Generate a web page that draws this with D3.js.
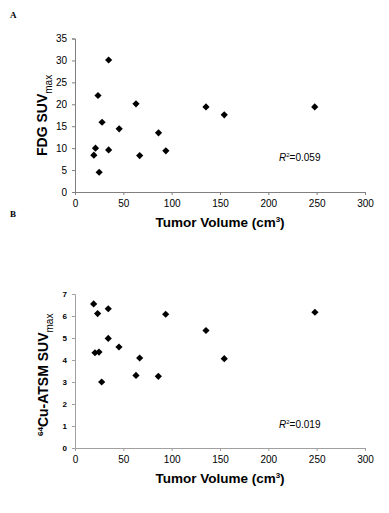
<!doctype html>
<html lang="en">
  <head>
    <meta charset="utf-8">
    <title>Tumor volume vs SUVmax</title>
    <script src="https://d3js.org/d3.v7.min.js"></script>
    <style>
      body { margin: 0; background: #fff; }
      svg { display: block; }
    </style>
  </head>
  <body>
    <svg width="389" height="513"></svg>
    <script>
      // tumor volumes (cm3), same lesions in both panels
      var volumes = [19.5, 21.2, 23.8, 25.0, 28.0, 34.8, 34.8, 45.7, 63.1, 66.9, 86.4, 94.0, 135.5, 154.4, 248.0];
      var fdgSuv  = [8.4, 10.0, 22.0, 4.5, 15.9, 30.1, 9.6, 14.4, 20.1, 8.3, 13.5, 9.4, 19.4, 17.6, 19.4];
      var cuVolumes = [19.3, 20.7, 23.4, 24.8, 27.6, 34.4, 34.4, 45.5, 63.1, 66.9, 86.2, 93.8, 135.5, 154.4, 248.2];
      var cuSuv   = [6.55, 4.33, 6.11, 4.36, 3.0, 6.33, 4.98, 4.59, 3.30, 4.09, 3.26, 6.08, 5.34, 4.06, 6.17];
      var xTicks = [0, 50, 100, 150, 200, 250, 300];
      var fdgTicks = [0, 5, 10, 15, 20, 25, 30, 35];
      var cuTicks = [0, 1, 2, 3, 4, 5, 6, 7];

      var svg = d3.select('svg');
      var font = 'Arial, "Liberation Sans", sans-serif';

      var diamond = d3.symbol().type(d3.symbolSquare).size(26);

      function panel(opt) {
        var x = d3.scaleLinear().domain([0, 300]).range([75, 365]);
        var y = d3.scaleLinear().domain(opt.yDomain).range([opt.bottom, opt.top]);
        var g = svg.append('g');

        // panel letter
        g.append('text')
          .attr('x', 10).attr('y', opt.letterY)
          .style('font-family', '"Liberation Serif", "DejaVu Serif", serif')
          .style('font-size', '9px').style('font-weight', 'bold')
          .text(opt.letter);

        var yAxis = g.append('g')
          .attr('transform', 'translate(' + x(0) + ',0)')
          .call(d3.axisLeft(y).tickValues(opt.yTicks).tickFormat(d3.format('d')).tickSize(3).tickPadding(5));
        var xAxis = g.append('g')
          .attr('transform', 'translate(0,' + y(0) + ')')
          .call(d3.axisBottom(x).tickValues(xTicks).tickSize(3).tickPadding(5));

        [xAxis, yAxis].forEach(function(a){
          a.selectAll('path, line').attr('stroke', opt.axisColor);
          a.selectAll('text').style('font-family', font).style('fill', '#000');
        });
        xAxis.selectAll('text').style('font-size', '10px');
        yAxis.selectAll('text')
          .style('font-size', opt.yTickSize)
          .style('font-weight', opt.yTickWeight);

        // points
        g.selectAll('path.pt')
          .data(opt.xs.map(function(v, i){ return [v, opt.ys[i]]; }))
          .enter().append('path')
            .attr('class', 'pt')
            .attr('d', diamond)
            .attr('fill', '#000')
            .attr('transform', function(d){
              return 'translate(' + x(d[0]) + ',' + y(d[1]) + ') rotate(45)';
            });

        // x title
        var xt = g.append('text')
          .attr('x', 220).attr('y', y(0) + 35)
          .attr('text-anchor', 'middle')
          .style('font-family', font).style('font-size', '13.5px').style('font-weight', 'bold')
          .text('Tumor Volume (cm');
        xt.append('tspan').attr('dy', -5).style('font-size', '8px').text('3');
        xt.append('tspan').attr('dy', 5).text(')');

        // y title, starts at the bottom and reads upward
        var yt = g.append('text')
          .attr('transform', 'translate(' + opt.yTitleX + ',' + opt.yTitleY + ') rotate(-90)')
          .style('font-family', font).style('font-size', '14px').style('font-weight', 'bold');
        opt.yTitle(yt);

        // R squared
        var r = g.append('text')
          .attr('x', 279).attr('y', opt.rY)
          .style('font-family', font).style('font-size', '10px');
        r.append('tspan').style('font-style', 'italic').text('R');
        r.append('tspan').attr('dy', -4).style('font-size', '6px').text('2');
        r.append('tspan').attr('dy', 4).text('=' + opt.r2);
      }

      panel({
        letter: 'A', letterY: 18,
        xs: volumes, ys: fdgSuv,
        yDomain: [0, 35], yTicks: fdgTicks,
        top: 38.5, bottom: 192,
        axisColor: '#808080', yTickSize: '10px', yTickWeight: 'normal',
        yTitleX: 47, yTitleY: 156,
        yTitle: function(t){
          t.append('tspan').text('FDG SUV');
          t.append('tspan').attr('dy', 5).style('font-size', '10px').style('font-weight', 'normal').text('max');
        },
        rY: 161, r2: '0.059'
      });

      panel({
        letter: 'B', letterY: 217,
        xs: cuVolumes, ys: cuSuv,
        yDomain: [0, 7], yTicks: cuTicks,
        top: 294, bottom: 448,
        axisColor: '#a0a0a0', yTickSize: '8px', yTickWeight: 'bold',
        yTitleX: 48, yTitleY: 436,
        yTitle: function(t){
          t.append('tspan').attr('dy', -5).style('font-size', '8px').text('64');
          t.append('tspan').attr('dy', 5).text('Cu-ATSM SUV');
          t.append('tspan').attr('dy', 5).style('font-size', '10px').style('font-weight', 'normal').text('max');
        },
        rY: 428, r2: '0.019'
      });
    </script>
  </body>
</html>
